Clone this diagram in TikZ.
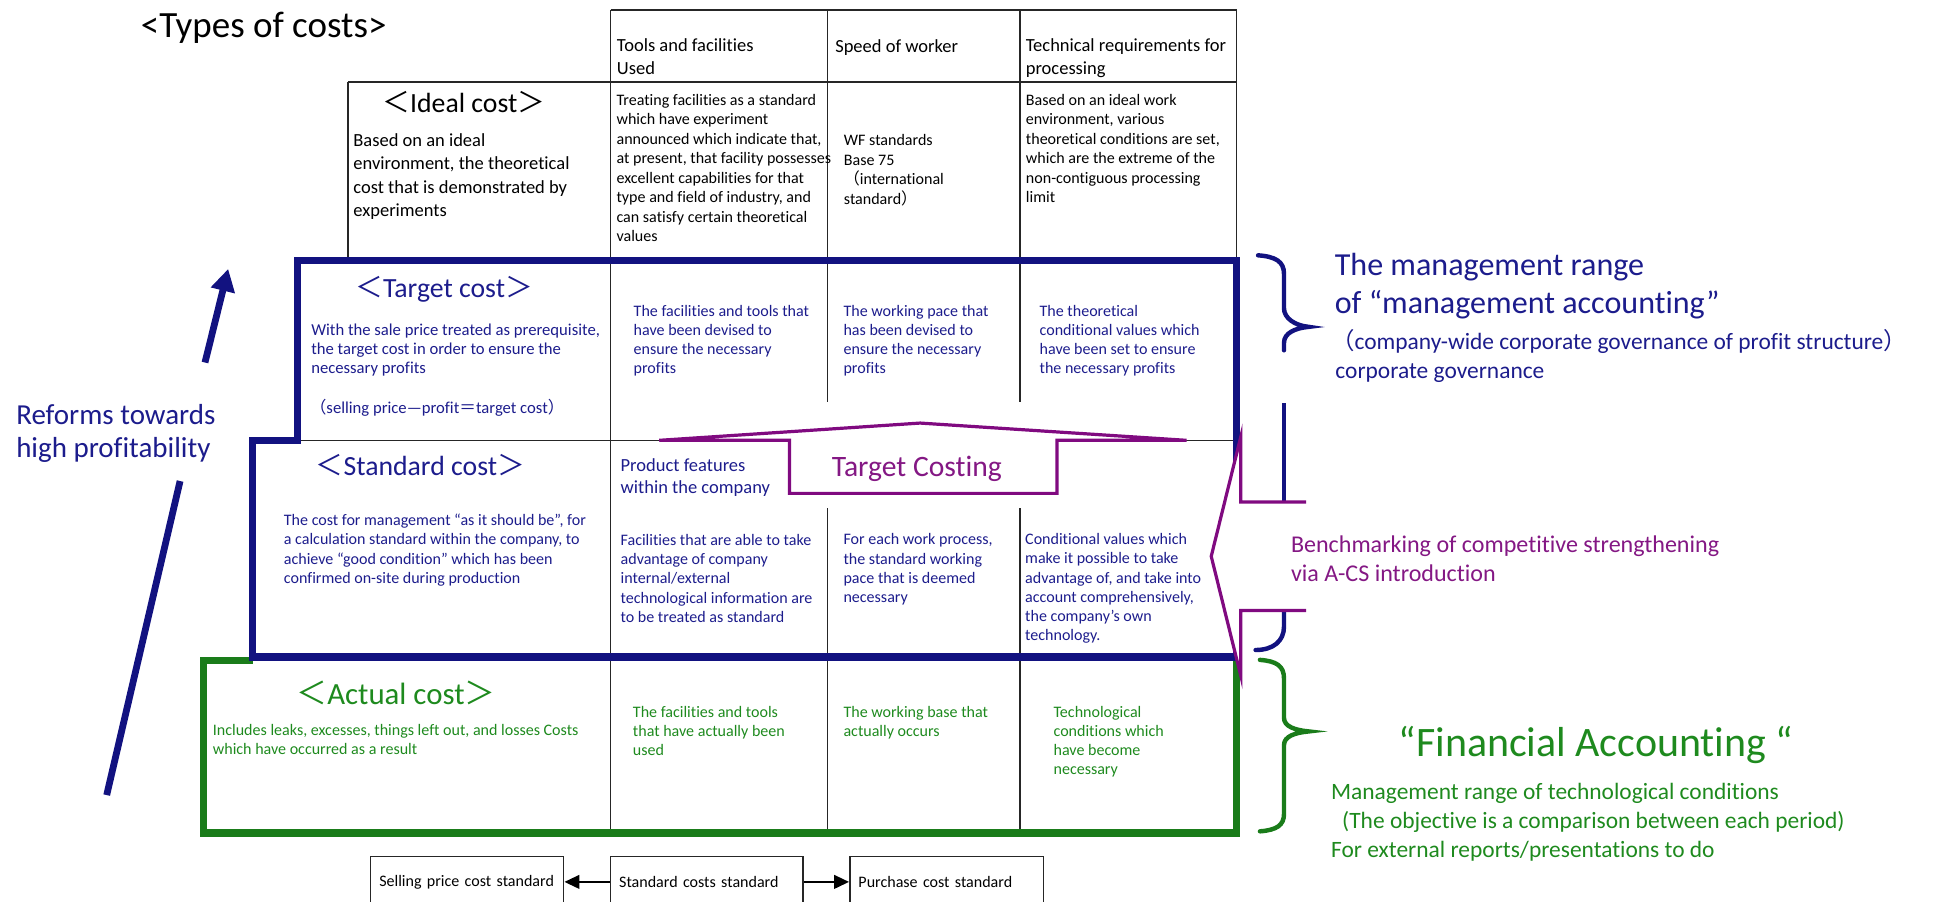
\documentclass[tikz,border=0pt]{standalone}
\usepackage{fontspec}
\setmainfont{Carlito}[Ligatures=NoCommon]
\newfontfamily\cjk{Noto Sans CJK JP}
\usetikzlibrary{arrows.meta}
\definecolor{navyline}{RGB}{18,18,128}
\definecolor{navytext}{RGB}{28,28,140}
\definecolor{greenline}{RGB}{26,124,26}
\definecolor{greentext}{RGB}{30,138,30}
\definecolor{purpleline}{RGB}{128,10,128}
\definecolor{purpletext}{RGB}{132,24,132}
% full-width punctuation
\newcommand\fwlt{{\cjk ＜}}
\newcommand\fwgt{{\cjk ＞}}
\newcommand\fwlp{{\cjk （}}
\newcommand\fwrp{{\cjk ）}}
\newcommand\fweq{{\cjk ＝}}
% multi-line block whose baseline is the first line
\newcommand\stack[1]{\begin{tabular}[t]{@{}l@{}}#1\end{tabular}}
\tikzset{
  txt/.style={anchor=base west, inner sep=0pt},
  ttl/.style={anchor=base, inner sep=0pt},
  hdrfont/.style={font=\fontsize{15}{19}\selectfont},
  bodyfont/.style={font=\fontsize{13}{15.8}\selectfont},
  midfont/.style={font=\fontsize{19}{23.5}\selectfont},
  headfont/.style={font=\fontsize{22.5}{27}\selectfont},
  gridline/.style={line width=1.3pt, black!85},
  navyframe/.style={line width=6pt, navyline, line join=miter},
  greenframe/.style={line width=6pt, greenline, line join=miter},
  purpleedge/.style={line width=2.6pt, purpleline, line join=miter},
  bracenavy/.style={line width=3.6pt, navyline, line cap=round},
  bracegreen/.style={line width=3.6pt, greenline, line cap=round},
  costbox/.style={draw, line width=1.3pt, black!85, text=black, minimum height=41pt,
    align=left, inner xsep=7pt, font=\fontsize{13}{15.8}\selectfont},
  linkarrow/.style={line width=1.6pt, black, -{Triangle[length=12pt,width=11pt]}},
}
\begin{document}
\begin{tikzpicture}[x=1pt, y=-1pt]
\useasboundingbox (0,0) rectangle (1568,730.5);
\clip (0,0) rectangle (1568,730.5);

% ---------- table grid ----------
\draw[gridline] (495,8) -- (1002.5,8);
\draw[gridline] (282,66.5) -- (1002.5,66.5);
\draw[gridline] (282,66.5) -- (282,208);
\draw[gridline] (495,8) -- (495,676);
\draw[gridline] (671,8) -- (671,326);
\draw[gridline] (671,412) -- (671,676);
\draw[gridline] (827,8) -- (827,326);
\draw[gridline] (827,412) -- (827,676);
\draw[gridline] (1002.5,8) -- (1002.5,208);
\draw[gridline] (241,357) -- (1002.5,357);

% ---------- frames ----------
\draw[greenframe] (205,535.5) -- (165,535.5) -- (165,675.5) -- (1002.5,675.5) -- (1002.5,535.5);
\draw[navyframe] (241,211) -- (1002.5,211) -- (1002.5,532.5) -- (204.5,532.5)
  -- (204.5,357) -- (241,357) -- cycle;

% ---------- Target Costing block arrow ----------
\draw[purpleedge, fill=white] (640,400) -- (640,357) -- (534.5,357) -- (746,343)
  -- (962,357) -- (857,357) -- (857,400) -- cycle;

% ---------- braces ----------
\draw[bracenavy] (1020,207) .. controls (1034,208) and (1041,212) .. (1041,222)
  -- (1041,250) .. controls (1041,258) and (1050,264) .. (1061,265)
  .. controls (1050,266) and (1041,270) .. (1041,278) -- (1041,284);
\draw[bracenavy, line cap=butt] (1041,327) -- (1041,410);
\draw[bracenavy] (1041,492) -- (1041,508) .. controls (1041,520) and (1032,527) .. (1018,527);
\draw[bracegreen] (1021.5,535) .. controls (1035,536) and (1041,540) .. (1041,550)
  -- (1041,582) .. controls (1041,589) and (1050,592) .. (1061,593)
  .. controls (1050,594) and (1041,597) .. (1041,604)
  -- (1041,660) .. controls (1041,669) and (1035,673) .. (1021.5,674);

% ---------- benchmarking block arrow ----------
\fill[white] (1059,407) -- (1006,407) -- (1006,354) -- (982,451) -- (1006,548)
  -- (1006,495) -- (1059,495) -- cycle;
\draw[purpleedge] (1059,407) -- (1006,407) -- (1006,354) -- (982,451) -- (1006,548)
  -- (1006,495) -- (1059,495);

% ---------- rising arrow ----------
\coordinate (riseA) at (86.5,644.6);
\coordinate (riseB) at (146,390);
\coordinate (riseC) at (166.2,293.9);
\coordinate (riseD) at (185,218);
\draw[line width=5.5pt, navyline] (riseA) -- (riseB);
\draw[line width=5.5pt, navyline, -{Triangle[length=18pt,width=19pt]}] (riseC) -- (riseD);

% ---------- title and header ----------
\node[txt, font=\fontsize{30}{36}\selectfont] (title) at (114,30) {<Types of costs>};
\node[txt, hdrfont] (hTools) at (500,41.5) {\stack{Tools and facilities\\Used}};
\node[txt, hdrfont] (hSpeed) at (677,42.5) {Speed of worker};
\node[txt, hdrfont] (hTech) at (831.5,41.5) {\stack{Technical requirements for\\processing}};

% ---------- ideal cost row ----------
\node[ttl, headfont] (idealT) at (376,91.5) {\fwlt Ideal cost\fwgt};
\node[txt, font=\fontsize{15}{19}\selectfont] (idealD) at (286.3,118.5) {\stack{Based on an ideal\\environment, the theoretical\\cost that is demonstrated by\\experiments}};
\node[txt, bodyfont] (idealTools) at (499.7,85.5) {\stack{Treating facilities as a standard\\which have experiment\\announced which indicate that,\\at present, that facility possesses\\excellent capabilities for that\\type and field of industry, and\\can satisfy certain theoretical\\values}};
\node[txt, bodyfont] (idealSpeed) at (684,118) {\stack{WF standards\\Base 75\\\fwlp international\\standard\fwrp}};
\node[txt, bodyfont] (idealTech) at (831.6,85.5) {\stack{Based on an ideal work\\environment, various\\theoretical conditions are set,\\which are the extreme of the\\non-contiguous processing\\limit}};

% ---------- target cost row ----------
\begin{scope}[text=navytext]
\node[ttl, headfont] (targetT) at (360,241) {\fwlt Target cost\fwgt};
\node[txt, font=\fontsize{13.5}{15.5}\selectfont] (targetD) at (252.2,272) {\stack{With the sale price treated as prerequisite,\\the target cost in order to ensure the\\necessary profits}};
\node[txt, font=\fontsize{13.5}{15.5}\selectfont] (targetF) at (251,335.5) {\fwlp selling price—profit\fweq target cost\fwrp};
\node[txt, font=\fontsize{13}{15.5}\selectfont] (targetTools) at (513.6,256.5) {\stack{The facilities and tools that\\have been devised to\\ensure the necessary\\profits}};
\node[txt, font=\fontsize{13}{15.5}\selectfont] (targetSpeed) at (683.7,256.5) {\stack{The working pace that\\has been devised to\\ensure the necessary\\profits}};
\node[txt, font=\fontsize{13}{15.5}\selectfont] (targetTech) at (842.7,256.5) {\stack{The theoretical\\conditional values which\\have been set to ensure\\the necessary profits}};

% ---------- standard cost row ----------
\node[ttl, headfont] (stdT) at (340.8,385.5) {\fwlt Standard cost\fwgt};
\node[txt, font=\fontsize{13}{15.8}\selectfont] (stdD) at (230,425.9) {\stack{The cost for management “as it should be”, for\\a calculation standard within the company, to\\achieve “good condition” which has been\\confirmed on-site during production}};
\node[txt, font=\fontsize{15}{18.1}\selectfont] (stdHead) at (503,382) {\stack{Product features\\within the company}};
\node[txt, font=\fontsize{13}{15.6}\selectfont] (stdTools) at (503,442.2) {\stack{Facilities that are able to take\\advantage of company\\internal/external\\technological information are\\to be treated as standard}};
\node[txt, font=\fontsize{13}{15.6}\selectfont] (stdSpeed) at (683.7,441.7) {\stack{For each work process,\\the standard working\\pace that is deemed\\necessary}};
\node[txt, font=\fontsize{13}{15.6}\selectfont] (stdTech) at (831,441.5) {\stack{Conditional values which\\make it possible to take\\advantage of, and take into\\account comprehensively,\\the company’s own\\technology.}};
\end{scope}

\node[txt, text=purpletext, font=\fontsize{24}{28}\selectfont] (tcLabel) at (674.3,386) {Target Costing};

% ---------- actual cost row ----------
\begin{scope}[text=greentext]
\node[ttl, font=\fontsize{25}{30}\selectfont] (actT) at (321,571.5) {\fwlt Actual cost\fwgt};
\node[txt, font=\fontsize{13}{15.6}\selectfont] (actD) at (172.4,596.5) {\stack{Includes leaks, excesses, things left out, and losses Costs\\which have occurred as a result}};
\node[txt, font=\fontsize{13}{15.6}\selectfont] (actTools) at (513,581.5) {\stack{The facilities and tools\\that have actually been\\used}};
\node[txt, font=\fontsize{13}{15.6}\selectfont] (actSpeed) at (683.7,581.5) {\stack{The working base that\\actually occurs}};
\node[txt, font=\fontsize{13}{15.6}\selectfont] (actTech) at (854,581.5) {\stack{Technological\\conditions which\\have become\\necessary}};
\end{scope}

% ---------- side notes ----------
\node[txt, text=navytext, font=\fontsize{23.5}{26.7}\selectfont] (reform) at (13,344.5) {\stack{Reforms towards\\high profitability}};
\node[txt, text=navytext, font=\fontsize{26}{31}\selectfont] (mgmt) at (1082,223.3) {\stack{The management range\\of “management accounting”}};
\node[txt, text=navytext, midfont] (mgmtSub) at (1079,283.2) {\fwlp company-wide corporate governance of profit structure\fwrp};
\node[txt, text=navytext, midfont] (mgmtGov) at (1082.5,307.2) {corporate governance};
\node[txt, text=purpletext, font=\fontsize{19.5}{23.5}\selectfont] (bench) at (1046.5,448) {\stack{Benchmarking of competitive strengthening\\via A-CS introduction}};
\node[ttl, text=greentext, font=\fontsize{34}{40}\selectfont] (fin) at (1294,613.3) {“Financial Accounting “};
\node[txt, text=greentext, midfont] (finD) at (1079,648.2) {\stack{Management range of technological conditions\\\hspace{9pt}(The objective is a comparison between each period)\\For external reports/presentations to do}};

% ---------- cost standards ----------
\node[costbox, minimum width=156.5pt, text width=142.5pt] (sell) at (378.75,715) {Selling price cost standard};
\node[costbox, minimum width=156pt, text width=142pt] (std) at (573,715) {Standard costs standard};
\node[costbox, minimum width=157pt, text width=143pt] (pur) at (767.5,715) {Purchase cost standard};
\draw[linkarrow] (std.west) -- (sell.east);
\draw[linkarrow] (std.east) -- (pur.west);
\end{tikzpicture}
\end{document}
